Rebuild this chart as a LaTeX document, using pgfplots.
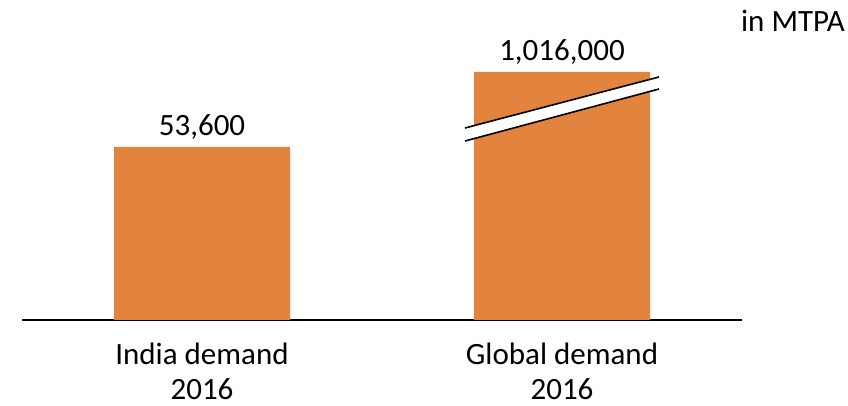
\documentclass[border=0pt]{standalone}
\usepackage{pgfplots}
\pgfplotsset{compat=1.18}
\usepackage{fontspec}
\setmainfont{Carlito}
\definecolor{barorange}{RGB}{226,131,62}
\begin{document}
\begin{tikzpicture}[x=1pt,y=1pt]
\begin{axis}[
  at={(0,0)}, anchor=south west,
  scale only axis,
  width=720pt, height=320pt,
  xmin=-0.5, xmax=1.5,
  ymin=0, ymax=320,
  axis y line=none,
  axis x line*=bottom,
  axis line style={black, line width=1.4pt, -},
  xtick={0,1},
  xticklabels={{India demand\\2016},{Global demand\\2016}},
  major tick length=0pt,
  xticklabel style={anchor=north, inner sep=0pt, yshift=-23pt, align=center,
    font=\fontsize{31}{35}\selectfont},
  clip=false,
]
% y = drawn bar height (second bar is broken); meta = actual value
\addplot[ybar, bar width=176pt, fill=barorange, draw=none,
  nodes near coords, point meta=explicit symbolic,
  nodes near coords style={anchor=base, inner sep=0pt, yshift=11pt, text=black,
    font=\fontsize{31}{37}\selectfont}]
  table[meta=label] {
  x y label
  0 173 {53,600}
  1 248 {1,016,000}
};
% break band
\fill[white] (axis cs:0.7306,192) -- (axis cs:1.2694,243) -- (axis cs:1.2694,231) -- (axis cs:0.7306,179) -- cycle;
\draw[black, line width=1.6pt] (axis cs:0.7306,192) -- (axis cs:1.2694,243);
\draw[black, line width=1.6pt] (axis cs:0.7306,179) -- (axis cs:1.2694,231);
\end{axis}
\node[anchor=base east, inner sep=0pt, font=\fontsize{31}{37}\selectfont] at (823pt,288pt) {in MTPA};
\path[use as bounding box] (-22pt,-86pt) rectangle (826pt,320pt);
\end{tikzpicture}
\end{document}
